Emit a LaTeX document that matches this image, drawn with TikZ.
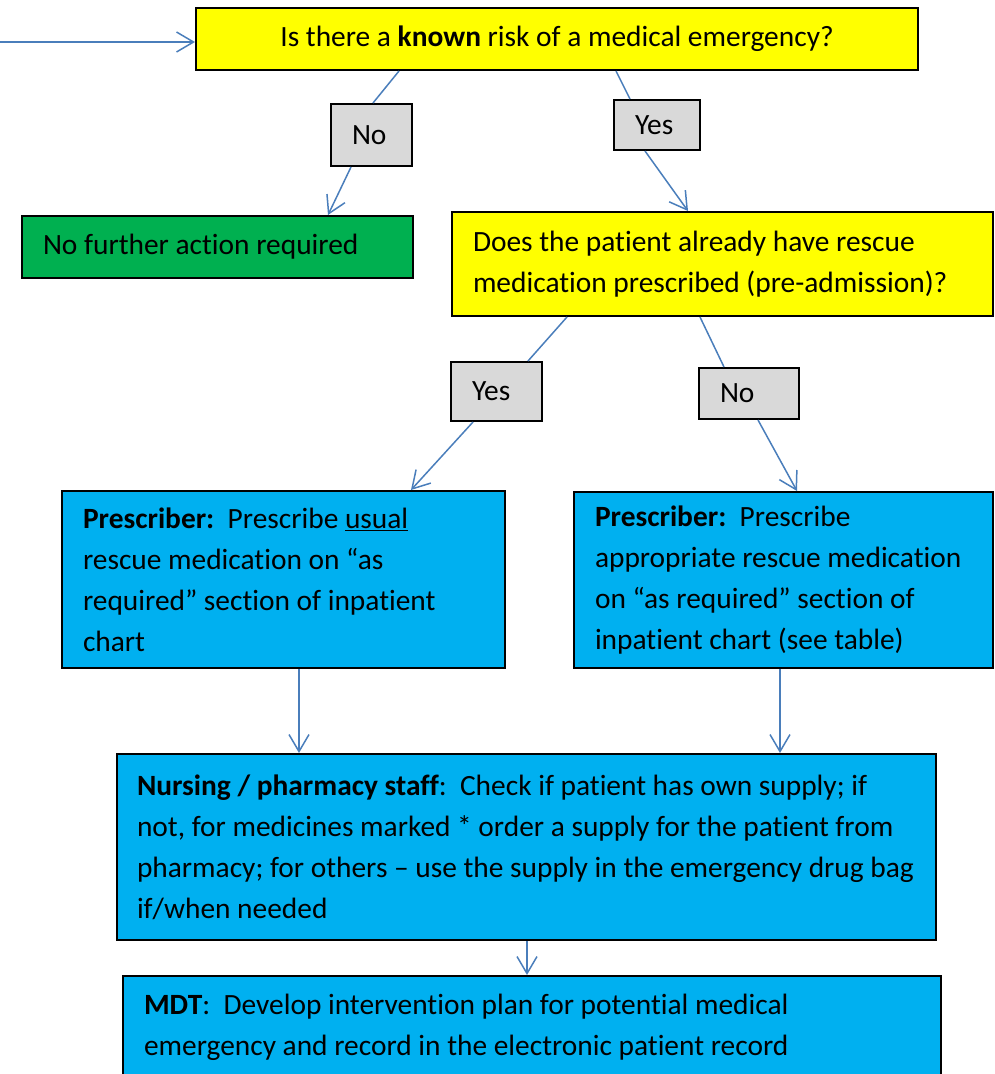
\documentclass[tikz,border=0pt]{standalone}
\usepackage{fontspec}
\setmainfont{Carlito}[Ligatures=NoCommon]
\usetikzlibrary{arrows.meta}

\definecolor{askyellow}{RGB}{255,255,0}
\definecolor{donegreen}{RGB}{0,176,80}
\definecolor{taskblue}{RGB}{0,176,240}
\definecolor{answergrey}{RGB}{217,217,217}
\definecolor{linkblue}{RGB}{74,126,187}

\begin{document}
\begin{tikzpicture}[x=1pt,y=-1pt,
    font=\fontsize{29.4}{41}\selectfont,
    box/.style={draw=black,line width=2pt,anchor=north west,
        inner xsep=21pt,inner ysep=0pt,align=flush left,
        execute at begin node={\spaceskip=0pt\xspaceskip=0pt\relax}},
    question/.style={box,fill=askyellow},
    task/.style={box,fill=taskblue},
    answer/.style={box,fill=answergrey},
    link/.style={linkblue,line width=1.5pt,
        -{Straight Barb[length=17pt,width=20pt]}},
    joint/.style={linkblue,line width=1.5pt}]

    % Page
    \useasboundingbox (0,0) rectangle (995,1074);

    % Questions
    \node[question,align=flush center,text width=680pt,minimum height=62pt] (known) at (195,7)
        {Is there a \textbf{known} risk of a medical emergency?};
    \node[question,text width=499pt,minimum height=104pt] (already) at (451,211)
        {Does the patient already have rescue\\medication prescribed (pre-admission)?};

    % Answers
    \node[answer,text width=39pt,minimum height=62pt] (knownNo) at (330,103) {No};
    \node[answer,text width=44pt,minimum height=50pt] (knownYes) at (613,99) {Yes};
    \node[answer,text width=49pt,minimum height=59pt] (alreadyYes) at (450,361) {Yes};
    \node[answer,text width=58pt,minimum height=51pt] (alreadyNo) at (698,367) {No};

    % Actions
    \node[box,fill=donegreen,text width=349pt,minimum height=62pt] (noAction) at (21,215)
        {No further action required};
    \node[task,text width=401pt,minimum height=177pt] (usual) at (61,490)
        {\textbf{Prescriber:}\ \ Prescribe \underline{usual}\\
         rescue medication on “as\\
         required” section of inpatient\\
         chart};
    \node[task,text width=779pt,inner xsep=20pt,minimum height=186pt] (supply) at (116,753)
        {\textbf{Nursing / pharmacy staff}:\ \ Check if patient has own supply; if\\
         not, for medicines marked * order a supply for the patient from\\
         pharmacy; for others -- use the supply in the emergency drug bag\\
         if/when needed};
    \node[task,text width=377pt,minimum height=176pt] (appropriate) at (573,491)
        {\textbf{Prescriber:}\ \ Prescribe\\
         appropriate rescue medication\\
         on “as required” section of\\
         inpatient chart (see table)};
    \node[task,text width=776pt,minimum height=103pt] (plan) at (122,975)
        {\textbf{MDT}:\ \ Develop intervention plan for potential medical\\
         emergency and record in the electronic patient record};

    % Entry arrow
    \coordinate (entry) at (0,42);
    \draw[link] (entry) -- (entry -| known.west);

    % First question
    \draw[joint] ([xshift=204pt]known.south west) -- ([xshift=43pt]knownNo.north west);
    \draw[link] ([xshift=21pt]knownNo.south west) -- ([xshift=307pt]noAction.north west);
    \draw[joint] ([xshift=421pt]known.south west) -- ([xshift=17pt]knownYes.north west);
    \draw[link] ([xshift=32pt]knownYes.south west) -- ([xshift=237pt]already.north west);

    % Second question
    \draw[joint] ([xshift=116pt]already.south west) -- ([xshift=78pt]alreadyYes.north west);
    \draw[link] ([xshift=23pt]alreadyYes.south west) -- ([xshift=350pt]usual.north west);
    \draw[joint] ([xshift=249pt]already.south west) -- ([xshift=26pt]alreadyNo.north west);
    \draw[link] ([xshift=60pt]alreadyNo.south west) -- ([xshift=224pt]appropriate.north west);

    % Down to the supply and the plan
    \draw[link] ([xshift=238pt]usual.south west) -- ([xshift=238pt]usual.south west |- supply.north);
    \draw[link] ([xshift=207pt]appropriate.south west) -- ([xshift=207pt]appropriate.south west |- supply.north);
    \draw[link] ([xshift=411pt]supply.south west) -- ([xshift=411pt]supply.south west |- plan.north);
\end{tikzpicture}
\end{document}
